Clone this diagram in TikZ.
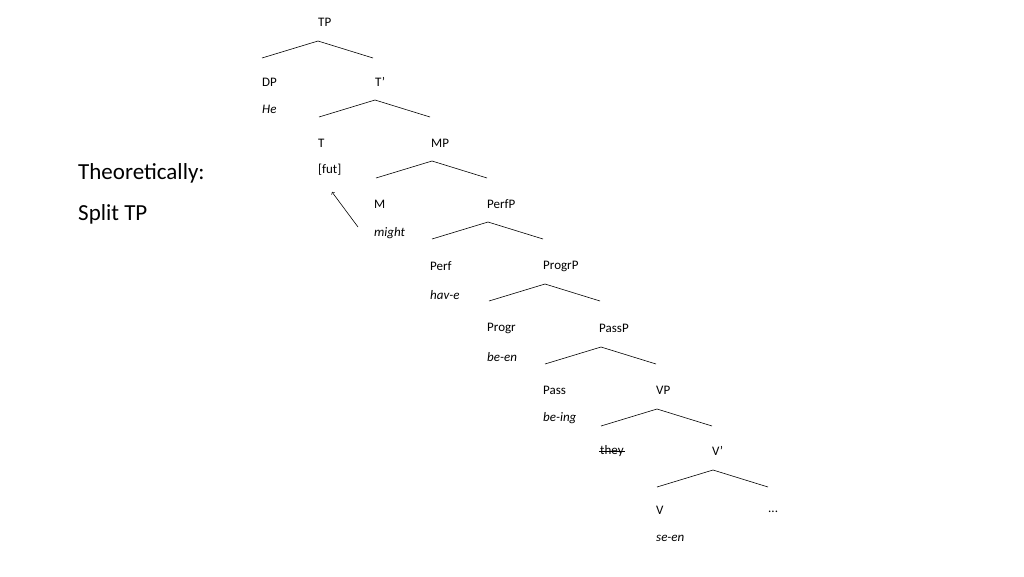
\documentclass[tikz,border=0pt]{standalone}
\usepackage{fontspec}
\setmainfont{Carlito}
\begin{document}
\begin{tikzpicture}[x=1pt,y=-1pt,
  lab/.style={anchor=west,inner sep=0pt,font=\fontsize{13}{15}\selectfont},
  big/.style={anchor=west,inner sep=0pt,font=\fontsize{23}{27}\selectfont},
  br/.style={line width=0.6pt}]
\useasboundingbox (0,0) rectangle (1024,576);
\node[big] (th) at (78,173) {Theoretically:};
\node[big] (sp) at (78,214) {Split TP};
\node[lab] (TP) at (318,22) {TP};
\node[lab] (DP) at (262,82) {DP};
\node[lab] (he) at (262,109) {\itshape He};
\node[lab] (Tb) at (375,82) {T’};
\node[lab] (T) at (318,143) {T};
\node[lab] (fut) at (318,170) {[fut]};
\node[lab] (MP) at (431,143) {MP};
\node[lab] (M) at (374,204) {M};
\node[lab] (might) at (374,233) {\itshape might};
\node[lab] (PerfP) at (487,204) {PerfP};
\node[lab] (Perf) at (430,266) {Perf};
\node[lab] (have) at (430,295) {\itshape hav-e};
\node[lab] (ProgrP) at (543,266) {ProgrP};
\node[lab] (Progr) at (487,328) {Progr};
\node[lab] (been) at (487,357) {\itshape be-en};
\node[lab] (PassP) at (599,328) {PassP};
\node[lab] (Pass) at (543,390) {Pass};
\node[lab] (being) at (543,418) {\itshape be-ing};
\node[lab] (VP) at (656,390) {VP};
\node[lab] (they) at (600,451) {they};
\draw[br] ([xshift=-1pt]they.west) -- ([xshift=1pt]they.east);
\node[lab] (Vb) at (712,451) {V’};
\node[lab] (V) at (656,510) {V};
\node[lab] (seen) at (656,538) {\itshape se-en};
\node[lab] (dots) at (768,512) {...};
\foreach \ax/\ay in {318/41,375/100,432/161,488/222,545/284,601/347,657/409,713/470}{
  \draw[br] (\ax,\ay) -- (\ax-56,\ay+17);
  \draw[br] (\ax,\ay) -- (\ax+55,\ay+17);
}
\coordinate (a1) at (358,227);
\coordinate (a2) at (332,192);
\draw[br,->] (a1) -- (a2);
\end{tikzpicture}
\end{document}
